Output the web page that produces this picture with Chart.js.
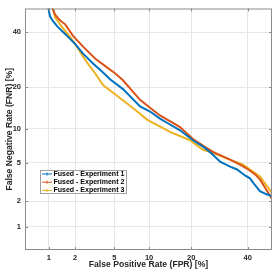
<!DOCTYPE html>
<html>
<head>
<meta charset="utf-8">
<script src="https://cdn.jsdelivr.net/npm/chart.js@4.4.0/dist/chart.umd.min.js"></script>
<style>
  html, body { margin: 0; padding: 0; background: #fff; }
  canvas { display: block; }
</style>
</head>
<body>
<canvas id="detChart" width="279" height="274"></canvas>
<script>
// tick labels (percent)
var fprTicks = [1, 2, 5, 10, 20, 40];
var fnrTicks = [1, 2, 5, 10, 20, 40];

var seriesNames = ["Fused - Experiment 1", "Fused - Experiment 2", "Fused - Experiment 3"];
var seriesColors = ["#0072BD", "#D95319", "#EDB120"];

// values, in percent
var exp1Fpr = [0.95, 1.03, 1.12, 1.28, 1.55, 1.76, 2.0, 2.44, 3.1, 3.81, 4.56, 6.01, 8.44, 10.17, 12.13, 14.37, 16.87, 20.5, 24.2, 26.9, 29.4, 33.1, 35.8, 38.9, 40.9, 43.0, 45.0, 47.5, 50];
var exp1Fnr = [53, 46.7, 44.6, 42.1, 39.3, 37.3, 35.3, 31.5, 27.9, 25.1, 22.5, 19.5, 14.8, 13.6, 12.0, 10.8, 9.7, 8.0, 6.85, 5.94, 5.11, 4.59, 4.30, 3.75, 3.5, 2.97, 2.57, 2.39, 2.28];

var exp2Fpr = [1.02, 1.18, 1.35, 1.55, 1.9, 2.44, 3.25, 4.26, 5.08, 6.01, 8.44, 10.17, 12.13, 16.87, 20.5, 24.2, 26.9, 33.1, 36.9, 39.7, 43.0, 45.0, 47.5, 50];
var exp2Fnr = [53, 47.5, 45.0, 43.3, 38.5, 34.2, 29.7, 26.5, 24.5, 22.2, 16.5, 14.5, 12.7, 10.3, 8.2, 7.0, 6.3, 5.34, 4.8, 4.39, 3.84, 3.42, 2.7, 2.11];

var exp3Fpr = [1.08, 1.18, 1.43, 1.76, 2.1, 2.44, 2.88, 3.25, 3.9, 5.3, 6.93, 8.44, 9.62, 14.37, 19.6, 23.6, 26.9, 32.0, 38.1, 45.0, 50];
var exp3Fnr = [53, 46.3, 42.1, 38.1, 34.2, 30.4, 26.8, 24.5, 20.7, 17.6, 15.0, 13.1, 11.8, 9.4, 8.0, 6.6, 6.2, 5.46, 4.8, 3.66, 2.45];

// inverse normal cdf (Acklam)
function probit(p) {
    var a = [-39.69683028665376, 220.9460984245205, -275.9285104469687, 138.3577518672690, -30.66479806614716, 2.506628277459239];
    var b = [-54.47609879822406, 161.5858368580409, -155.6989798598866, 66.80131188771972, -13.28068155288572];
    var c = [-0.007784894002430293, -0.3223964580411365, -2.400758277161838, -2.549732539343734, 4.374664141464968, 2.938163982698783];
    var d = [0.007784695709041462, 0.3224671290700398, 2.445134137142996, 3.754408661907416];
    var q, r;
    if (p < 0.02425) {
        q = Math.sqrt(-2 * Math.log(p));
        return (((((c[0] * q + c[1]) * q + c[2]) * q + c[3]) * q + c[4]) * q + c[5]) / ((((d[0] * q + d[1]) * q + d[2]) * q + d[3]) * q + 1);
    }
    if (p <= 1 - 0.02425) {
        q = p - 0.5; r = q * q;
        return (((((a[0] * r + a[1]) * r + a[2]) * r + a[3]) * r + a[4]) * r + a[5]) * q / (((((b[0] * r + b[1]) * r + b[2]) * r + b[3]) * r + b[4]) * r + 1);
    }
    q = Math.sqrt(-2 * Math.log(1 - p));
    return -(((((c[0] * q + c[1]) * q + c[2]) * q + c[3]) * q + c[4]) * q + c[5]) / ((((d[0] * q + d[1]) * q + d[2]) * q + d[3]) * q + 1);
}

function normCdf(z) {
    var t = 1 / (1 + 0.2316419 * Math.abs(z));
    var y = 0.3989423 * Math.exp(-z * z / 2) * t * (0.3193815 + t * (-0.3565638 + t * (1.781478 + t * (-1.821256 + t * 1.330274))));
    return z > 0 ? 1 - y : y;
}

// normal deviate (DET) axis
class ProbitScale extends Chart.Scale {
    parse(raw, index) {
        var v = Chart.LinearScale.prototype.parse.apply(this, [raw, index]);
        return isFinite(v) && v > 0 && v < 100 ? v : null;
    }
    determineDataLimits() {
        this.min = this.options.min;
        this.max = this.options.max;
    }
    buildTicks() {
        return this.options.tickValues.map(v => ({ value: v }));
    }
    configure() {
        super.configure();
        this._zStart = probit(this.min / 100);
        this._zRange = probit(this.max / 100) - this._zStart;
    }
    getPixelForValue(value) {
        return this.getPixelForDecimal((probit(value / 100) - this._zStart) / this._zRange);
    }
    getValueForPixel(pixel) {
        var dec = this.getDecimalForPixel(pixel);
        return normCdf(this._zStart + dec * this._zRange) * 100;
    }
}
ProbitScale.id = "probit";
ProbitScale.defaults = {};
Chart.register(ProbitScale);

function toPoints(xs, ys) {
    return xs.map((v, i) => ({ x: v, y: ys[i] }));
}

const boxPlugin = {
    id: "boxPlugin",
    afterDraw(chart) {
        const ctx = chart.ctx;
        const a = chart.chartArea;
        const sx = chart.scales.x, sy = chart.scales.y;
        ctx.save();
        ctx.strokeStyle = "#8c8c8c";
        ctx.lineWidth = 1;
        ctx.strokeRect(a.left + 0.5, a.top + 0.5, a.right - a.left - 1, a.bottom - a.top - 1);
        ctx.beginPath();
        fprTicks.forEach(v => {
            const px = Math.round(sx.getPixelForValue(v)) + 0.5;
            ctx.moveTo(px, a.bottom); ctx.lineTo(px, a.bottom - 3);
            ctx.moveTo(px, a.top); ctx.lineTo(px, a.top + 3);
        });
        fnrTicks.forEach(v => {
            const py = Math.round(sy.getPixelForValue(v)) + 0.5;
            ctx.moveTo(a.left, py); ctx.lineTo(a.left + 3, py);
            ctx.moveTo(a.right, py); ctx.lineTo(a.right - 3, py);
        });
        ctx.stroke();

        // legend
        const lx = 40, ly = 170, lw = 87, lh = 24;
        ctx.fillStyle = "#fff";
        ctx.fillRect(lx, ly, lw, lh);
        ctx.strokeStyle = "#a0a0a0";
        ctx.strokeRect(lx + 0.5, ly + 0.5, lw - 1, lh - 1);
        ctx.font = "bold 7px 'Liberation Sans', Arial, sans-serif";
        ctx.textBaseline = "middle";
        seriesNames.forEach((name, i) => {
            const y = ly + 4 + i * 8.2;
            ctx.strokeStyle = seriesColors[i];
            ctx.lineWidth = 1;
            ctx.beginPath();
            ctx.moveTo(lx + 2, y); ctx.lineTo(lx + 12, y);
            ctx.moveTo(lx + 7, y - 1.5); ctx.lineTo(lx + 7, y + 1.5);
            ctx.stroke();
            ctx.fillStyle = "#000";
            ctx.fillText(name, lx + 13.5, y);
        });
        ctx.restore();
    }
};

Chart.defaults.font.family = "'Liberation Sans', Arial, sans-serif";
Chart.defaults.font.weight = "bold";
Chart.defaults.color = "#262626";

const ctx = document.getElementById("detChart");
const chart = new Chart(ctx, {
    type: "line",
    data: {
        datasets: [
            { label: seriesNames[0], data: toPoints(exp1Fpr, exp1Fnr), borderColor: seriesColors[0] },
            { label: seriesNames[1], data: toPoints(exp2Fpr, exp2Fnr), borderColor: seriesColors[1] },
            { label: seriesNames[2], data: toPoints(exp3Fpr, exp3Fnr), borderColor: seriesColors[2] }
        ]
    },
    options: {
        responsive: false,
        devicePixelRatio: 1,
        animation: false,
        events: [],
        parsing: { xAxisKey: "x", yAxisKey: "y" },
        elements: {
            line: { borderWidth: 2, tension: 0, fill: false },
            point: { radius: 0 }
        },
        layout: { padding: { top: 4, right: 7, left: 0, bottom: 0 } },
        plugins: {
            legend: { display: false },
            tooltip: { enabled: false }
        },
        scales: {
            x: {
                type: "probit",
                position: "bottom",
                min: 0.5, max: 50,
                tickValues: fprTicks,
                afterFit: s => { s.height = 24; },
                grid: { color: "#e6e6e6", drawTicks: false },
                border: { display: false },
                ticks: { padding: 3, font: { size: 7.5, weight: "bold" }, maxRotation: 0, autoSkip: false },
                title: { display: true, text: "False Positive Rate (FPR) [%]", font: { size: 8.6, weight: "bold" }, padding: { top: 0, bottom: 4 } }
            },
            y: {
                type: "probit",
                position: "left",
                min: 0.5, max: 50,
                tickValues: fnrTicks,
                afterFit: s => { s.width = 25; },
                grid: { color: "#e6e6e6", drawTicks: false },
                border: { display: false },
                ticks: { padding: 4, font: { size: 7.5, weight: "bold" }, autoSkip: false },
                title: { display: true, text: "False Negative Rate (FNR) [%]", font: { size: 8.6, weight: "bold" }, padding: { top: 4, bottom: 0 } }
            }
        }
    },
    plugins: [boxPlugin]
});
</script>
</body>
</html>
